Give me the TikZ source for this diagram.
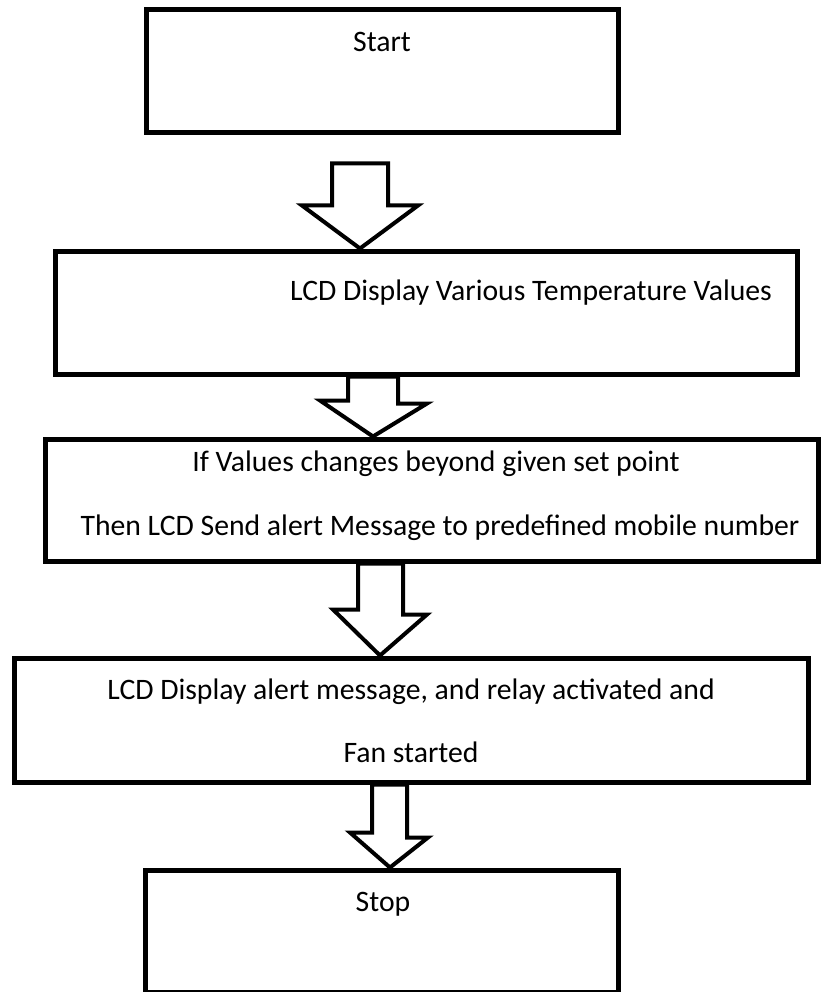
\documentclass[tikz,border=0pt]{standalone}
\usepackage{fontspec}
\setmainfont{Carlito}
\usetikzlibrary{positioning,calc}

\begin{document}
\begin{tikzpicture}[x=1pt, y=-1pt,
    stepbox/.style={draw, line width=5pt, inner sep=0pt},
    lbl/.style={font=\fontsize{29.7}{34}\selectfont, inner sep=0pt, anchor=base},
    blk/.style={draw, line width=4pt, fill=white, line join=miter},
]
  \useasboundingbox (0,0) rectangle (821,992);

  % boxes
  \node[stepbox, minimum width=472, minimum height=123] (b1) at (382,71.5) {};
  \node[stepbox, minimum width=742, minimum height=123] (b2) at (426,312.5) {};
  \node[stepbox, minimum width=773, minimum height=122] (b3) at (431.5,500) {};
  \node[stepbox, minimum width=794, minimum height=124] (b4) at (411,720) {};
  \node[stepbox, minimum width=473, minimum height=122] (b5) at (381.5,931) {};

  % texts
  \node[lbl] (t1) at (382,52) {Start};
  \node[lbl] (t2) at (531,300) {LCD Display Various Temperature Values};
  \node[lbl] (t3a) at (436,471) {If Values changes beyond given set point};
  \node[lbl] (t3b) at (440,535) {Then LCD Send alert Message to predefined mobile number};
  \node[lbl] (t4a) at (411,699) {LCD Display alert message, and relay activated and};
  \node[lbl] (t4b) at (411,762) {Fan started};
  \node[lbl] (t5) at (383,911) {Stop};

  % block arrows, drawn up from the tip
  \coordinate (ax1) at (360,0);
  \coordinate (ax2) at (373,0);
  \coordinate (ax3) at (380,0);
  \coordinate (ax4) at (390,0);
  \draw[blk] (b2.north -| ax1) -- ++(-58,-43) -- ++(30,0) -- ++(0,-42)
    -- ++(56,0) -- ++(0,42) -- ++(30,0) -- cycle;
  \draw[blk] (b3.north -| ax2) -- ++(-53,-36) -- ++(28,0) -- (b2.south -| 348,0)
    -- (b2.south -| 398,0) -- ++(0,27) -- ++(29,0) -- cycle;
  \draw[blk] (b4.north -| ax3) -- ++(-47,-46) -- ++(25,0) -- (b3.south -| 358,0)
    -- (b3.south -| 403,0) -- ++(0,51) -- ++(24,0) -- cycle;
  \draw[blk] (b5.north -| ax4) -- ++(-40,-35) -- ++(22,0) -- (b4.south -| 372,0)
    -- (b4.south -| 407,0) -- ++(0,53) -- ++(21,0) -- cycle;
\end{tikzpicture}
\end{document}
